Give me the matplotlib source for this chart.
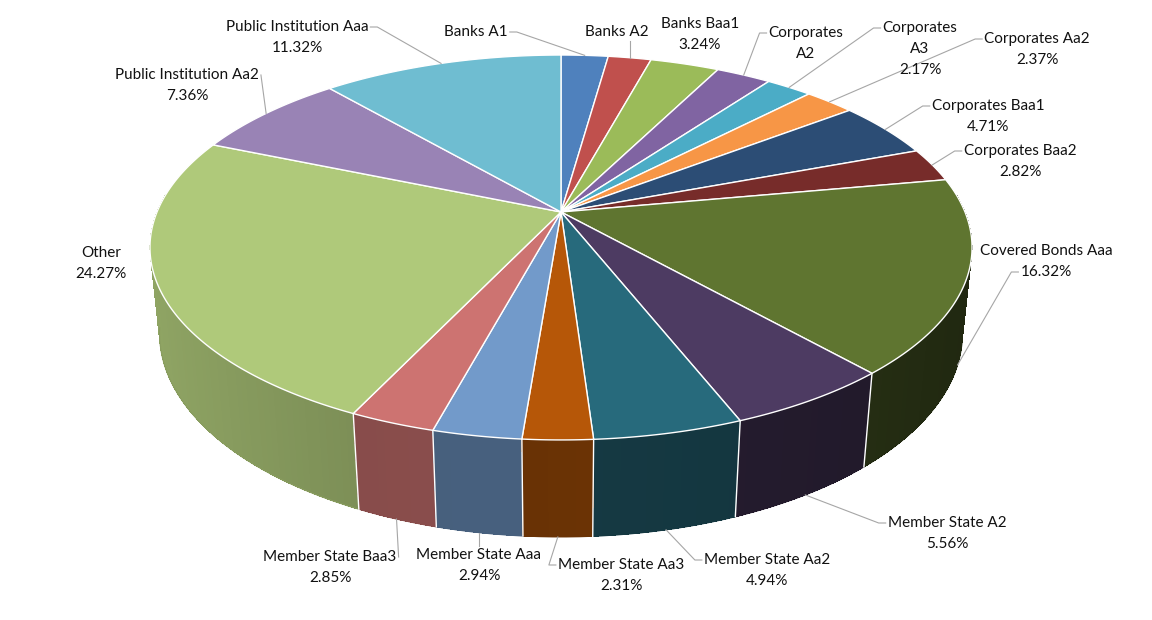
import numpy as np
import matplotlib
matplotlib.use("Agg")
import matplotlib.pyplot as plt
from matplotlib.colors import to_rgb

plt.rcParams['font.family'] = ['Lato', 'DejaVu Sans']

# data: share of each rating bucket, in %, clockwise from 12 o'clock
categories = ["Banks A1", "Banks A2", "Banks Baa1", "Corporates A2", "Corporates A3",
              "Corporates Aa2", "Corporates Baa1", "Corporates Baa2", "Covered Bonds Aaa",
              "Member State A2", "Member State Aa2", "Member State Aa3", "Member State Aaa",
              "Member State Baa3", "Other", "Public Institution Aa2", "Public Institution Aaa"]
shares = [2.21, 2.02, 3.24, 2.59, 2.17, 2.37, 4.71, 2.82, 16.32,
          5.56, 4.94, 2.31, 2.94, 2.85, 24.27, 7.36, 11.32]
# labels as shown in the chart (some wrapped, some without the percentage)
display_names = ["Banks A1", "Banks A2", "Banks Baa1", "Corporates\nA2", "Corporates\nA3",
                 "Corporates Aa2", "Corporates Baa1", "Corporates Baa2", "Covered Bonds Aaa",
                 "Member State A2", "Member State Aa2", "Member State Aa3", "Member State Aaa",
                 "Member State Baa3", "Other", "Public Institution Aa2", "Public Institution Aaa"]
show_pct = [False, False, True, False, True, True, True, True, True,
            True, True, True, True, True, True, True, True]

colors = ["#4F81BD", "#C0504D", "#9BBB59", "#8064A2", "#4BACC6", "#F79646", "#2C4D75",
          "#772C2A", "#5F7530", "#4D3B62", "#276A7C", "#B65708", "#729ACA", "#CD7371",
          "#AFC97A", "#9983B5", "#6FBDD1"]

# label layout: centre x and first-line y (pixels), leader side and line index
label_pos = [(476, 32), (617, 32), (700, 24), (806, 33), (920, 28), (1037, 39), (988, 106),
             (1020, 151), (1046, 251), (947, 523), (767, 560), (621, 565), (479, 555),
             (330, 557), (101, 253), (187, 75), (297, 27)]
leader_side = [('r', 0), ('b', 0), None, ('l', 0), ('l', 0), ('l', 0), ('l', 0), ('l', 0),
               ('l', 1), ('l', 0), ('l', 0), ('l', 0), ('t', 0), ('r', 0), None,
               ('r', 0), ('r', 0)]

# perspective view of the cylinder
CX, CY = 561, 212
F, D = 1945.6, 4.816
S, C = np.sin(np.radians(27.4)), np.cos(np.radians(27.4))
H = 0.2415
LINE_H = 21


def project(t, z):
    X, Y = np.cos(t), np.sin(t)
    w = D + Y * C - z * S
    return CX + F * X / w, CY - F * (Y * S + z * C) / w


def depth(t, z):
    return D + np.sin(t) * C - z * S


def shade(col, k):
    r, g, b = to_rgb(col)
    return (r * k, g * k, b * k)


def wall_factor(t):
    # light comes from the left: left wall brighter, right wall darker
    return 0.58 - 0.25 * np.cos(t)


fig = plt.figure(figsize=(11.52, 6.2), dpi=100)
ax = fig.add_axes([0, 0, 1, 1])
ax.set_xlim(0, 1152)
ax.set_ylim(620, 0)
ax.axis('off')

fr = np.array(shares) / sum(shares)
start = np.concatenate([[0], np.cumsum(fr)[:-1]])
t0 = np.pi / 2 - 2 * np.pi * start
t1 = t0 - 2 * np.pi * fr

# side walls, drawn back to front
strips = []
for i in range(len(shares)):
    n = max(3, int(np.degrees(t0[i] - t1[i])))
    ts = np.linspace(t0[i], t1[i], n + 1)
    for j in range(n):
        a, b = ts[j], ts[j + 1]
        tm = 0.5 * (a + b)
        if np.sin(tm) > 0.1:
            continue
        xa, ya = project(a, 0)
        xb, yb = project(b, 0)
        xc, yc = project(b, -H)
        xd, yd = project(a, -H)
        frac = (j + 0.5) / n
        k = wall_factor(tm) + 0.05 * (0.5 - frac)
        k = min(max(k, 0.3), 0.95)
        strips.append((depth(tm, 0), [xa, xb, xc, xd], [ya, yb, yc, yd], shade(colors[i], k)))

for _, xs, ys, col in sorted(strips, key=lambda s: -s[0]):
    ax.fill(xs, ys, color=col, lw=0, antialiased=False, zorder=1)

# smooth the lower rim of the wall
for i in range(len(shares)):
    ts = np.linspace(t0[i], t1[i], 200)
    ts = ts[np.sin(ts) < -0.15]
    if len(ts) < 2:
        continue
    px, py = project(ts, -H)
    ax.plot(px, py, color=shade(colors[i], wall_factor(ts.mean())), lw=0.8, zorder=1.5)

for tb in t0:
    if np.sin(tb) < -0.25:
        xa, ya = project(tb, 0)
        xd, yd = project(tb, -H)
        ax.plot([xa, xd], [ya, yd], color='white', lw=1.0, zorder=2)

# top face
for i in range(len(shares)):
    ts = np.linspace(t0[i], t1[i], max(4, int(np.degrees(t0[i] - t1[i]) * 2)))
    px, py = project(ts, 0)
    xs = np.concatenate([[CX], px])
    ys = np.concatenate([[CY], py])
    ax.fill(xs, ys, color=colors[i], ec='white', lw=1.0, zorder=3)

# labels and leader lines
fig.canvas.draw()
renderer = fig.canvas.get_renderer()
inv = ax.transData.inverted()
for i, name in enumerate(display_names):
    lines = name.split('\n')
    if show_pct[i]:
        lines.append(f"{shares[i]:.2f}%")
    x0, y0 = label_pos[i]
    texts = []
    for k, s in enumerate(lines):
        texts.append(ax.text(x0, y0 + k * LINE_H, s, ha='center', va='center',
                             fontsize=11, color='#111111', zorder=5))
    if leader_side[i] is None:
        continue
    side, li = leader_side[i]
    tm = 0.5 * (t0[i] + t1[i])
    ax_, ay_ = project(tm, 0 if np.sin(tm) >= 0 else -H)
    bb = texts[li].get_window_extent(renderer)
    (bx0, by1), (bx1, by0) = inv.transform([[bb.x0, bb.y0], [bb.x1, bb.y1]])
    ly = y0 + li * LINE_H
    if side == 'l':
        sx, sy = bx0 - 2, ly
        pts = [(sx, sy), (sx - 7, sy), (ax_, ay_)]
    elif side == 'r':
        sx, sy = bx1 + 2, ly
        if abs(ax_ - sx) > abs(ay_ - sy):
            pts = [(sx, sy), (sx + 7, sy), (ax_, ay_)]
        else:
            pts = [(sx, sy), (ax_, ay_)]
    elif side == 't':
        pts = [(min(max(ax_, bx0), bx1), by0 - 2), (ax_, ay_)]
    else:
        pts = [(min(max(ax_, bx0), bx1), by1 + 2), (ax_, ay_)]
    xs, ys = zip(*pts)
    ax.plot(xs, ys, color='#A6A6A6', lw=0.8, zorder=4)

fig.savefig('out.png', dpi=100)
